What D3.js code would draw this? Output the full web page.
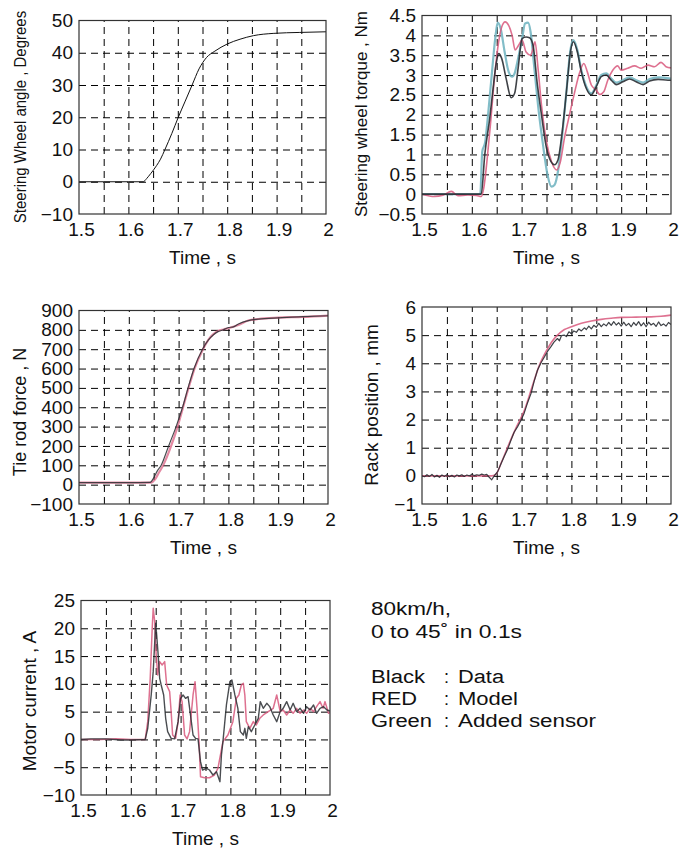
<!DOCTYPE html>
<html><head><meta charset="utf-8">
<script src="https://cdn.jsdelivr.net/npm/d3@7"></script>
<style>
body{margin:0;background:#fff;}
svg text{font-family:"Liberation Sans",Arial,Helvetica,sans-serif;fill:#111;}
</style></head><body>
<svg id="chart" width="690" height="853"></svg>
<script>
// ---------- tick values ----------
const timeTickValues = [1.5, 1.6, 1.7, 1.8, 1.9, 2];
const timeGridValues = [1.55, 1.6, 1.65, 1.7, 1.75, 1.8, 1.85, 1.9, 1.95];
const angleTicks = [-10, 0, 10, 20, 30, 40, 50];
const torqueTicks = [-0.5, 0, 0.5, 1, 1.5, 2, 2.5, 3, 3.5, 4, 4.5];
const forceTicks = [-100, 0, 100, 200, 300, 400, 500, 600, 700, 800, 900];
const rackTicks = [-1, 0, 1, 2, 3, 4, 5, 6];
const currentTicks = [-10, -5, 0, 5, 10, 15, 20, 25];

// ---------- data: [time s, value] ----------
const angleData = [[1.5,0],[1.55,0],[1.6,0],[1.63,0],[1.637,1],[1.645,2.5],[1.657,5],[1.665,7],[1.674,10],[1.688,15],[1.701,20],[1.715,25],[1.729,30],[1.743,35],[1.758,38.5],[1.775,40.5],[1.8,42.7],[1.826,44.2],[1.853,45.3],[1.893,46.0],[1.947,46.3],[2.0,46.5]];

const torqueData = [[1.5,0],[1.55,0],[1.6,0],[1.619,0],[1.626,0.99],[1.636,1.91],[1.642,2.58],[1.649,3.29],[1.654,3.54],[1.66,3.42],[1.669,2.91],[1.679,2.43],[1.686,2.54],[1.693,3.17],[1.701,3.92],[1.709,3.96],[1.716,3.94],[1.723,3.75],[1.731,2.83],[1.74,1.99],[1.75,1.16],[1.759,0.82],[1.766,0.74],[1.773,0.86],[1.78,1.41],[1.79,2.58],[1.798,3.58],[1.804,3.84],[1.812,3.58],[1.82,3.08],[1.83,2.66],[1.84,2.5],[1.85,2.71],[1.86,2.96],[1.87,3.0],[1.88,2.87],[1.89,2.76],[1.903,2.83],[1.917,2.9],[1.93,2.83],[1.944,2.76],[1.957,2.85],[1.974,2.89],[1.994,2.87],[2.0,2.87]];
const torqueSensor = [[1.5,0],[1.55,0],[1.6,0],[1.617,0],[1.621,1.07],[1.627,1.32],[1.632,1.91],[1.64,3.0],[1.647,3.92],[1.652,4.32],[1.658,4.17],[1.666,3.58],[1.674,3.08],[1.681,2.96],[1.686,3.04],[1.693,3.42],[1.701,3.92],[1.707,4.3],[1.713,4.32],[1.718,4.09],[1.725,3.25],[1.733,2.24],[1.743,1.24],[1.752,0.49],[1.76,0.19],[1.766,0.23],[1.773,0.57],[1.781,1.41],[1.79,2.58],[1.798,3.63],[1.804,3.88],[1.812,3.63],[1.82,3.12],[1.83,2.71],[1.84,2.54],[1.85,2.74],[1.86,3.0],[1.87,3.04],[1.88,2.91],[1.89,2.81],[1.903,2.87],[1.917,2.94],[1.93,2.87],[1.944,2.81],[1.957,2.9],[1.974,2.94],[2.0,2.91]];
const torqueModel = [[1.5,0],[1.525,-0.06],[1.542,-0.03],[1.559,0.07],[1.572,-0.04],[1.592,-0.02],[1.609,-0.03],[1.619,-0.06],[1.624,0.15],[1.631,0.9],[1.638,1.83],[1.646,3.0],[1.654,3.84],[1.66,4.21],[1.667,4.34],[1.674,4.25],[1.681,4.0],[1.687,3.63],[1.694,3.75],[1.701,3.88],[1.709,3.58],[1.718,3.5],[1.723,3.67],[1.727,3.84],[1.733,3.17],[1.74,2.24],[1.75,1.32],[1.76,0.82],[1.77,0.61],[1.778,0.82],[1.786,1.41],[1.796,1.99],[1.806,2.54],[1.816,3.04],[1.825,3.29],[1.832,3.08],[1.84,2.75],[1.85,2.62],[1.857,2.51],[1.865,2.58],[1.873,2.87],[1.883,3.12],[1.893,3.23],[1.9,3.12],[1.913,3.17],[1.927,3.23],[1.94,3.17],[1.954,3.25],[1.967,3.21],[1.98,3.32],[1.99,3.21],[2.0,3.18]];

const forceData = [[1.5,10],[1.55,10],[1.6,10],[1.643,12],[1.65,35],[1.657,70],[1.665,100],[1.68,200],[1.695,300],[1.708,400],[1.719,500],[1.731,600],[1.748,700],[1.76,748],[1.77,775],[1.78,792],[1.79,800],[1.8,812],[1.81,815],[1.82,830],[1.84,848],[1.86,855],[1.9,862],[1.95,868],[2.0,873]];
const forceModel = [[1.5,10],[1.55,10],[1.6,10],[1.645,10],[1.652,25],[1.66,60],[1.669,100],[1.685,200],[1.698,300],[1.709,400],[1.72,500],[1.732,600],[1.749,700],[1.76,750],[1.77,778],[1.78,795],[1.79,802],[1.8,808],[1.82,825],[1.84,848],[1.86,856],[1.9,863],[1.95,867],[2.0,874]];

const rackData = [[1.5,0],[1.505,-0.03],[1.51,0.04],[1.515,-0.02],[1.52,0.05],[1.525,-0.04],[1.53,0.02],[1.535,-0.05],[1.54,0.03],[1.545,-0.02],[1.55,0.04],[1.555,-0.03],[1.56,0.02],[1.565,-0.04],[1.57,0.03],[1.575,0],[1.58,0.04],[1.585,-0.02],[1.59,0.03],[1.595,0],[1.6,0.05],[1.605,0.01],[1.61,0.04],[1.615,0.02],[1.62,0.06],[1.625,0.03],[1.63,0.05],[1.635,-0.05],[1.64,-0.14],[1.645,0],[1.652,0.15],[1.658,0.4],[1.665,0.69],[1.672,0.95],[1.679,1.28],[1.685,1.55],[1.692,1.75],[1.698,1.95],[1.705,2.22],[1.712,2.6],[1.719,2.93],[1.725,3.35],[1.732,3.76],[1.739,4.02],[1.746,4.23],[1.752,4.42],[1.759,4.59],[1.765,4.75],[1.772,4.88],[1.776,4.8],[1.78,4.98],[1.786,5.0],[1.79,4.95],[1.795,5.12],[1.8,5.05],[1.805,5.15],[1.81,5.1],[1.815,5.22],[1.82,5.15],[1.826,5.26],[1.83,5.2],[1.835,5.32],[1.84,5.22],[1.845,5.35],[1.85,5.28],[1.855,5.42],[1.86,5.3],[1.865,5.4],[1.87,5.33],[1.875,5.45],[1.88,5.35],[1.885,5.48],[1.89,5.36],[1.895,5.44],[1.9,5.32],[1.905,5.46],[1.91,5.34],[1.915,5.42],[1.92,5.3],[1.925,5.45],[1.93,5.35],[1.935,5.48],[1.94,5.33],[1.945,5.44],[1.95,5.3],[1.955,5.46],[1.96,5.36],[1.965,5.42],[1.97,5.31],[1.975,5.47],[1.98,5.34],[1.985,5.4],[1.99,5.32],[1.995,5.45],[2.0,5.38]];
const rackModel = [[1.5,0],[1.6,0],[1.64,0],[1.648,0.05],[1.66,0.5],[1.675,1.15],[1.69,1.75],[1.705,2.3],[1.72,3.1],[1.735,3.9],[1.75,4.45],[1.76,4.75],[1.772,5.0],[1.786,5.2],[1.8,5.3],[1.82,5.42],[1.84,5.5],[1.86,5.56],[1.88,5.6],[1.9,5.63],[1.93,5.64],[1.96,5.65],[1.98,5.67],[2.0,5.71]];

const currentData = [[1.5,0],[1.52,0.1],[1.55,0.1],[1.58,-0.1],[1.6,-0.1],[1.629,0],[1.634,2.0],[1.641,8.0],[1.645,12.2],[1.65,20.9],[1.652,18.8],[1.655,15.2],[1.658,11.0],[1.661,9.8],[1.666,8.0],[1.67,3.8],[1.674,1.4],[1.681,0.2],[1.688,0.1],[1.695,3.2],[1.7,7.4],[1.705,8.0],[1.71,7.4],[1.715,7.7],[1.719,5.0],[1.725,0.8],[1.73,0.2],[1.735,0.1],[1.74,-4.0],[1.744,-5.5],[1.752,-5.2],[1.758,-5.5],[1.765,-6.4],[1.772,-5.8],[1.779,-7.6],[1.782,-2.8],[1.785,-0.4],[1.792,6.2],[1.799,10.4],[1.803,10.7],[1.809,8.0],[1.815,5.6],[1.82,1.4],[1.826,0.8],[1.829,2.0],[1.832,0.2],[1.836,2.3],[1.842,1.4],[1.849,2.6],[1.856,3.8],[1.86,6.8],[1.866,5.6],[1.873,6.5],[1.879,5.9],[1.886,4.4],[1.893,3.2],[1.9,5.0],[1.906,5.6],[1.913,6.8],[1.92,5.3],[1.926,6.5],[1.933,5.0],[1.94,5.6],[1.947,4.7],[1.953,5.9],[1.96,5.3],[1.967,6.2],[1.973,4.7],[1.98,5.6],[1.987,5.9],[1.994,5.3],[2.0,5.1]];
const currentModel = [[1.5,0],[1.54,0],[1.57,0.1],[1.6,0],[1.629,0],[1.634,3.2],[1.639,11.0],[1.643,20.0],[1.645,23.6],[1.648,21.2],[1.651,15.2],[1.654,11.6],[1.658,14.0],[1.663,13.4],[1.668,14.0],[1.672,9.8],[1.678,8.6],[1.681,5.0],[1.684,0.8],[1.69,0.2],[1.695,3.2],[1.699,8.0],[1.703,6.8],[1.708,0.8],[1.713,0.1],[1.718,1.4],[1.725,8.0],[1.729,10.4],[1.733,5.6],[1.737,-0.4],[1.74,-6.7],[1.748,-6.9],[1.758,-6.9],[1.768,-6.4],[1.775,-5.2],[1.785,-0.4],[1.795,0.8],[1.805,3.2],[1.812,7.4],[1.817,8.0],[1.822,9.8],[1.826,10.1],[1.829,8.0],[1.832,3.2],[1.839,2.0],[1.846,3.2],[1.852,2.6],[1.859,3.8],[1.866,4.4],[1.876,5.0],[1.886,5.6],[1.893,8.0],[1.9,5.0],[1.906,5.3],[1.913,4.4],[1.92,5.3],[1.926,4.7],[1.933,5.6],[1.94,4.7],[1.947,5.3],[1.953,4.7],[1.96,5.6],[1.967,5.0],[1.973,5.9],[1.98,6.8],[1.986,5.6],[1.99,6.8],[1.997,4.7],[2.0,4.9]];

const noteLines = ["80km/h,", "0 to 45˚  in 0.1s"];
const legendNames = ["Black", "RED", "Green"];
const legendMeanings = ["Data", "Model", "Added sensor"];

// ---------- styles ----------
const BLACK = "#2a2e33", RED = "#d8587c", CYAN = "#74b6c2";
const FONT = "'Liberation Sans', Arial, Helvetica, sans-serif";

const panels = [
  {box:[79,326,20.5,214], yDomain:[-10,50], yTicks:angleTicks, yLabel:"Steering Wheel angle , Degrees",
   lab:[26,117,15,1.12], series:[{data:angleData,color:"#111",width:1,curve:d3.curveMonotoneX}]},
  {box:[422,671,15.5,214], yDomain:[-0.5,4.5], yTicks:torqueTicks, yLabel:"Steering wheel torque  , Nm",
   lab:[367,114,17,1], series:[
     {data:torqueSensor,color:CYAN,width:2.2,curve:d3.curveMonotoneX,op:0.9},
     {data:torqueModel,color:RED,width:1.6,curve:d3.curveMonotoneX,op:0.85},
     {data:torqueData,color:BLACK,width:1.6,curve:d3.curveMonotoneX,op:0.9}]},
  {box:[79,328,310.5,504], yDomain:[-100,900], yTicks:forceTicks, yLabel:"Tie rod force  , N",
   lab:[26,412,18,1], series:[
     {data:forceModel,color:RED,width:2.2,curve:d3.curveMonotoneX,op:0.7},
     {data:forceData,color:BLACK,width:1.2,curve:d3.curveMonotoneX,op:0.85}]},
  {box:[422,671,307,504], yDomain:[-1,6], yTicks:rackTicks, yLabel:"Rack position  , mm",
   lab:[378,405,19,1], series:[
     {data:rackModel,color:RED,width:1.6,curve:d3.curveMonotoneX,op:0.85},
     {data:rackData,color:BLACK,width:1.2,curve:d3.curveLinear,op:0.9}]},
  {box:[81,330,600.5,795], yDomain:[-10,25], yTicks:currentTicks, yLabel:"Motor current , A",
   lab:[36,701,19,1], series:[
     {data:currentModel,color:RED,width:1.5,curve:d3.curveLinear,op:0.85},
     {data:currentData,color:BLACK,width:1.4,curve:d3.curveLinear,op:0.85}]}
];

const svg = d3.select("#chart");
const fmt = v => String(v).replace("-", "\u2212");

panels.forEach((p, i) => {
  const [x0, x1, y0, y1] = p.box;
  const x = d3.scaleLinear().domain([1.5, 2]).range([x0, x1]);
  const y = d3.scaleLinear().domain(p.yDomain).range([y1, y0]);
  const g = svg.append("g");

  const cid = "clip" + i;
  svg.append("clipPath").attr("id", cid).append("rect")
    .attr("x", x0).attr("y", y0).attr("width", x1 - x0).attr("height", y1 - y0);

  // vertical grid
  const vg = g.append("g").attr("transform", `translate(0,${y1})`)
    .call(d3.axisBottom(x).tickValues(timeGridValues).tickSize(-(y1 - y0)).tickFormat(""));
  vg.select(".domain").remove();
  vg.selectAll("line").attr("stroke", "#000").attr("stroke-width", 1).attr("stroke-dasharray", "7,5");

  // horizontal grid
  const inner = p.yTicks.slice(1, -1);
  const hg = g.append("g").attr("transform", `translate(${x0},0)`)
    .call(d3.axisLeft(y).tickValues(inner).tickSize(-(x1 - x0)).tickFormat(""));
  hg.select(".domain").remove();
  hg.selectAll("line").attr("stroke", "#000").attr("stroke-width", 1).attr("stroke-dasharray", "7,5");

  // series
  const cg = g.append("g").attr("clip-path", `url(#${cid})`);
  p.series.forEach(s => {
    const line = d3.line().x(d => x(d[0])).y(d => y(d[1])).curve(s.curve);
    cg.append("path").datum(s.data).attr("d", line)
      .attr("fill", "none").attr("stroke", s.color).attr("stroke-width", s.width)
      .attr("stroke-opacity", s.op || 1).attr("stroke-linejoin", "round");
  });

  // frame
  g.append("rect").attr("x", x0).attr("y", y0).attr("width", x1 - x0).attr("height", y1 - y0)
    .attr("fill", "none").attr("stroke", "#333").attr("stroke-width", 1.2);

  // axes labels
  const ax = g.append("g").attr("transform", `translate(0,${y1})`)
    .call(d3.axisBottom(x).tickValues(timeTickValues).tickSize(0).tickPadding(8.5).tickFormat(fmt));
  ax.select(".domain").remove();
  ax.selectAll("text").attr("font-size", 19).attr("font-family", FONT).attr("fill", "#111").attr("dx", 2);

  const ay = g.append("g").attr("transform", `translate(${x0},0)`)
    .call(d3.axisLeft(y).tickValues(p.yTicks).tickSize(0).tickPadding(6).tickFormat(fmt));
  ay.select(".domain").remove();
  ay.selectAll("text").attr("font-size", 19).attr("font-family", FONT).attr("fill", "#111");

  g.append("text").attr("x", (x0 + x1) / 2).attr("y", y1 + 50).attr("text-anchor", "middle")
    .attr("font-size", 19).text("Time , s");

  const [lx, ly, ls, sc] = p.lab;
  g.append("text").attr("transform", `translate(${lx},${ly}) rotate(-90) scale(1,${sc})`)
    .attr("text-anchor", "middle").attr("font-size", ls).text(p.yLabel);
});

// notes
const note = svg.append("g").attr("fill", "#222");
note.append("text").attr("x", 371).attr("y", 615).attr("font-size", 18)
  .attr("textLength", 80).attr("lengthAdjust", "spacingAndGlyphs").text(noteLines[0]);
note.append("text").attr("x", 371).attr("y", 638).attr("font-size", 18)
  .attr("textLength", 151).attr("lengthAdjust", "spacingAndGlyphs").text(noteLines[1]);
const nameLen = [54, 46, 61], meanLen = [46, 60, 138];
legendNames.forEach((n, i) => {
  const yy = 683 + i * 22;
  note.append("text").attr("x", 371).attr("y", yy).attr("font-size", 18)
    .attr("textLength", nameLen[i]).attr("lengthAdjust", "spacingAndGlyphs").text(n);
  note.append("text").attr("x", 444).attr("y", yy).attr("font-size", 18).text(":");
  note.append("text").attr("x", 458).attr("y", yy).attr("font-size", 18)
    .attr("textLength", meanLen[i]).attr("lengthAdjust", "spacingAndGlyphs").text(legendMeanings[i]);
});
</script>
</body></html>
